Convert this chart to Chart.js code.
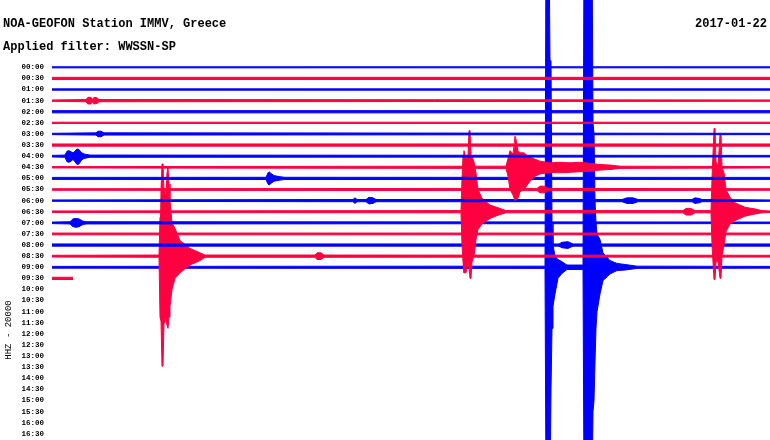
<!DOCTYPE html>
<html><head><meta charset="utf-8">
<script src="https://cdn.jsdelivr.net/npm/chart.js@4.4.1/dist/chart.umd.min.js"></script>
<style>html,body{margin:0;padding:0;background:#fff}#wrap{position:relative;width:770px;height:440px}</style>
</head><body><div id="wrap"><canvas id="c" width="770" height="440"></canvas></div>
<script>
// ---- text ----
const titleText = 'NOA-GEOFON Station IMMV, Greece';
const filterText = 'Applied filter: WWSSN-SP';
const dateText = '2017-01-22';
const channelText = 'HHZ - 20000';

// ---- tick labels (one helicorder row per 30 minutes) ----
const rowLabels = ['00:00','00:30','01:00','01:30','02:00','02:30','03:00','03:30','04:00','04:30',
  '05:00','05:30','06:00','06:30','07:00','07:30','08:00','08:30','09:00','09:30',
  '10:00','10:30','11:00','11:30','12:00','12:30','13:00','13:30','14:00','14:30',
  '15:00','15:30','16:00','16:30'];

// minutes recorded on each row (rows 0..19), background noise half-amplitude (row units)
const rowEnd = [30,30,30,30,30,30,30,30,30,30,30,30,30,30,30,30,30,30,30,0.88];
const rowNoise = [0.05,0.1,0.06,0.06,0.1,0.06,0.06,0.1,0.07,0.06,0.09,0.07,0.06,0.07,0.07,0.08,0.1,0.08,0.08,0.1];

// ---- large events: time (min into row), amplitude up / down (row-spacing units) ----
// 08:30 row, red event
const evA_t  = [4.471,4.513,4.554,4.596,4.638,4.680,4.721,4.763,4.805,4.847,4.889,4.930,4.972,5.014,5.139,5.348,5.766,6.184,6.393];
const evA_up = [0.1,3.5,5.9,8.3,8.3,5.9,5.6,5.4,7.5,8.0,6.5,5.0,4.0,3.0,2.5,1.4,0.7,0.3,0.1];
const evA_dn = [0.1,5.5,5.8,9.9,9.9,6.0,5.2,5.8,6.2,6.5,5.5,4.5,3.8,3.0,2.0,1.5,0.8,0.4,0.1];
// 06:30 row, red event
const evB_t  = [17.089,17.131,17.173,17.214,17.298,17.381,17.423,17.465,17.507,17.549,17.632,17.716,17.800,17.967,18.301,18.719,18.969];
const evB_up = [0.1,3.0,5.0,5.5,4.8,5.0,7.3,7.3,5.0,5.0,4.5,3.5,2.0,1.2,0.6,0.3,0.1];
const evB_dn = [0.1,3.0,4.5,5.5,5.5,4.5,5.0,6.0,6.0,4.5,4.0,2.5,1.6,1.1,0.6,0.25,0.1];
// 04:30 row, red event with long coda
const evC_t  = [18.969,19.053,19.137,19.262,19.346,19.387,19.471,19.555,19.722,19.889,20.098,20.390,20.808,21.226,21.644,22.061,22.479,22.897,23.315,23.733];
const evC_up = [0.1,0.8,1.5,1.2,2.8,2.8,1.5,1.3,1.3,1.0,0.8,0.55,0.4,0.45,0.4,0.45,0.35,0.25,0.2,0.1];
const evC_dn = [0.1,0.8,2.0,2.5,3.0,3.0,2.8,2.2,2.0,1.5,0.9,0.6,0.45,0.5,0.45,0.4,0.35,0.25,0.2,0.1];
// 06:30 row, red event near end
const evD_t  = [27.535,27.577,27.661,27.703,27.744,27.828,27.911,27.953,27.995,28.079,28.162,28.329,28.538,28.956,29.374,29.666];
const evD_up = [0.1,3.0,7.5,7.5,4.5,4.0,7.0,7.0,4.0,3.5,2.0,1.3,0.8,0.4,0.25,0.1];
const evD_dn = [0.1,3.0,6.1,6.1,4.5,4.5,6.0,6.0,4.0,3.0,1.8,1.1,0.8,0.4,0.2,0.1];
// 09:00 row, two large blue events (clipped)
const evE_t  = [20.599,20.641,20.766,20.808,20.850,20.892,20.933,21.017,21.142,21.309,21.518];
const evE_up = [0.1,30,30,18.6,18.6,4,2,1.0,0.7,0.5,0.2];
const evE_dn = [0.1,20,20,20,11,5.5,3.5,2.4,1.0,0.55,0.2];
const evF_t  = [22.187,22.229,22.563,22.605,22.647,22.689,22.730,22.772,22.898,23.022,23.315,23.607,23.942,24.443];
const evF_up = [0.2,30,30,13,12,6,4,3,2.5,1.3,0.6,0.35,0.25,0.1];
const evF_dn = [0.2,20,20,13,12,8.5,5.5,4.0,2.4,1.2,0.6,0.3,0.25,0.1];

// ---- small blips: time (min), symmetric amplitude ----
const b03_t = [1.421,1.504,1.630,1.692,1.755,1.880,1.964]; const b03_a = [0.1,0.3,0.3,0.1,0.3,0.25,0.1];
const b06_t = [1.838,1.922,2.047,2.173]; const b06_a = [0.1,0.25,0.25,0.1];
const b08_t = [0.543,0.627,0.710,0.794,0.877,0.961,1.045,1.128,1.212,1.337,1.588];
const b08_up = [0.1,0.45,0.5,0.4,0.3,0.45,0.65,0.6,0.35,0.2,0.1];
const b08_dn = [0.1,0.5,0.55,0.45,0.3,0.5,0.75,0.7,0.4,0.2,0.1];
const b10_t = [8.942,9.025,9.067,9.150,9.276,9.527,9.736]; const b10_a = [0.1,0.5,0.6,0.45,0.25,0.15,0.1];
const b11_t = [20.265,20.390,20.557,20.724]; const b11_a = [0.1,0.3,0.3,0.1];
const b12_t = [12.577,12.660,12.744,13.120,13.245,13.412,13.538,23.816,24.025,24.276,24.485,26.741,26.867,27.034,27.159];
const b12_a = [0.1,0.25,0.1,0.1,0.3,0.25,0.1,0.1,0.25,0.25,0.1,0.1,0.25,0.2,0.1];
const b13_t = [26.365,26.490,26.699,26.867]; const b13_a = [0.1,0.3,0.3,0.1];
const b14_t = [0.752,0.877,1.003,1.128,1.295,1.421]; const b14_a = [0.1,0.35,0.4,0.35,0.15,0.1];
const b16_t = [21.184,21.309,21.560,21.769]; const b16_a = [0.1,0.25,0.3,0.1];
const b17_t = [10.989,11.072,11.240,11.365]; const b17_a = [0.1,0.3,0.3,0.1];

const events = [
  {row:17,t:evA_t,up:evA_up,dn:evA_dn},{row:13,t:evB_t,up:evB_up,dn:evB_dn},
  {row:9,t:evC_t,up:evC_up,dn:evC_dn},{row:13,t:evD_t,up:evD_up,dn:evD_dn},
  {row:18,t:evE_t,up:evE_up,dn:evE_dn},{row:18,t:evF_t,up:evF_up,dn:evF_dn},
  {row:3,t:b03_t,up:b03_a,dn:b03_a},{row:6,t:b06_t,up:b06_a,dn:b06_a},
  {row:8,t:b08_t,up:b08_up,dn:b08_dn},{row:10,t:b10_t,up:b10_a,dn:b10_a},
  {row:11,t:b11_t,up:b11_a,dn:b11_a},{row:12,t:b12_t,up:b12_a,dn:b12_a},
  {row:13,t:b13_t,up:b13_a,dn:b13_a},{row:14,t:b14_t,up:b14_a,dn:b14_a},
  {row:16,t:b16_t,up:b16_a,dn:b16_a},{row:17,t:b17_t,up:b17_a,dn:b17_a}
];

const BLUE = '#0000ff', RED = '#ff0040';
const datasets = [];
for (let r = 0; r < rowEnd.length; r++) {
  const base = rowNoise[r], end = rowEnd[r];
  const col = r % 2 === 0 ? BLUE : RED;
  const pts = [];
  events.filter(e => e.row === r).forEach(e => e.t.forEach((t, i) =>
    pts.push({t, up: Math.max(base, e.up[i]), dn: Math.max(base, e.dn[i])})));
  pts.sort((a, b) => a.t - b.t);
  const upper = [{x:0,y:r-base}, ...pts.map(p => ({x:p.t,y:r-p.up})), {x:end,y:r-base}];
  const lower = [{x:0,y:r+base}, ...pts.map(p => ({x:p.t,y:r+p.dn})), {x:end,y:r+base}];
  datasets.push({data:upper, borderColor:col, backgroundColor:col, borderWidth:1, pointRadius:0, fill:false});
  datasets.push({data:lower, borderColor:col, backgroundColor:col, borderWidth:1, pointRadius:0, fill:'-1'});
}

const textPlugin = {
  id: 'texts',
  afterDraw(chart) {
    const ctx = chart.ctx;
    ctx.save();
    ctx.fillStyle = '#000';
    ctx.font = 'bold 12px "Liberation Mono"';
    ctx.textBaseline = 'alphabetic';
    ctx.textAlign = 'left';
    ctx.fillText(titleText, 3, 27);
    ctx.fillText(filterText, 3, 50);
    ctx.textAlign = 'right';
    ctx.fillText(dateText, 767, 27);
    ctx.translate(11, 330);
    ctx.rotate(-Math.PI / 2);
    ctx.font = '9px "Liberation Mono"';
    ctx.textAlign = 'center';
    ctx.fillText(channelText, 0, 0);
    ctx.restore();
  }
};

new Chart(document.getElementById('c'), {
  type: 'line',
  data: { datasets },
  options: {
    responsive: false, animation: false, devicePixelRatio: 1,
    layout: { padding: 0 },
    elements: { line: { tension: 0, borderCapStyle: 'butt' } },
    plugins: { legend: { display: false }, tooltip: { enabled: false }, title: { display: false } },
    scales: {
      x: { type: 'linear', min: 0, max: 30, display: false },
      y: {
        type: 'linear', reverse: true, min: -6.06, max: 33.55,
        grid: { display: false, drawTicks: false }, border: { display: false },
        afterFit: s => { s.width = 52; s.paddingTop = 0; s.paddingBottom = 0; },
        afterBuildTicks: s => { s.ticks = rowLabels.map((_, i) => ({ value: i })); },
        ticks: {
          autoSkip: false, padding: 8, color: '#000',
          font: { family: 'Liberation Mono', size: 7.5, weight: 'bold' },
          callback: v => rowLabels[Math.round(v)] ?? ''
        }
      }
    }
  },
  plugins: [textPlugin]
});
</script></body></html>
